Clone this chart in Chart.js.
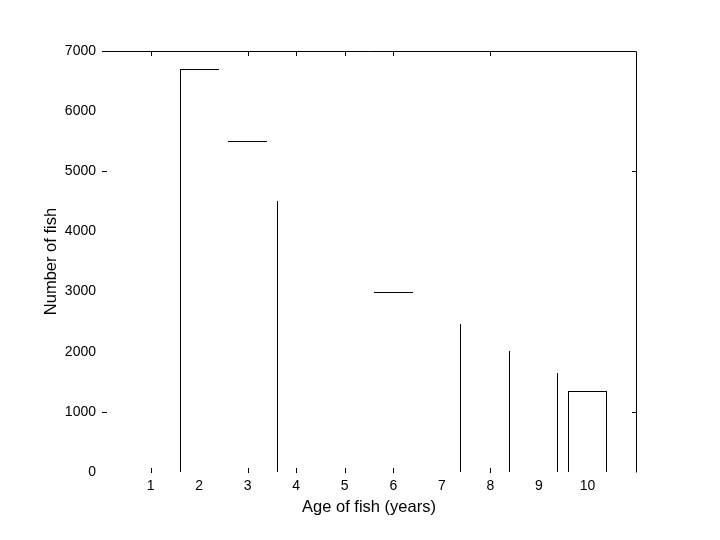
<!DOCTYPE html>
<html>
<head>
<meta charset="utf-8">
<script src="https://cdn.jsdelivr.net/npm/chart.js@4.4.1/dist/chart.umd.min.js"></script>
<style>
  html, body { margin: 0; padding: 0; background: #fff; }
  #wrap { width: 720px; height: 540px; }
</style>
</head>
<body>
<div id="wrap"><canvas id="c" width="720" height="540"></canvas></div>
<script>
// ---- data ----
const ages = [1, 2, 3, 4, 5, 6, 7, 8, 9, 10];
const fishCounts = [null, 6700, 5500, 4500, null, 3000, 2460, 2010, 1650, 1345];
const xTickLabels = ['1', '2', '3', '4', '5', '6', '7', '8', '9', '10'];
const yTickValues = [0, 1000, 2000, 3000, 4000, 5000, 6000, 7000];
// tick marks that are actually visible in the reference
const xTickMarks = [1, 3, 4, 5, 6, 8];
const yTickMarks = [1000, 5000];

// ---- style: which bar edges are visible ----
const barEdges = [
  {top: 0, right: 0, bottom: 0, left: 0},
  {top: 1, right: 0, bottom: 0, left: 1},
  {top: 1, right: 0, bottom: 0, left: 0},
  {top: 0, right: 0, bottom: 0, left: 1},
  {top: 0, right: 0, bottom: 0, left: 0},
  {top: 1, right: 0, bottom: 0, left: 0},
  {top: 0, right: 1, bottom: 0, left: 0},
  {top: 0, right: 1, bottom: 0, left: 0},
  {top: 0, right: 1, bottom: 0, left: 0},
  {top: 1, right: 1, bottom: 0, left: 1}
];

const FAMILY = '"Liberation Sans", Arial, Helvetica, sans-serif';
const TICK_FONT = { family: FAMILY, size: 14 };
const TITLE_FONT = { family: FAMILY, size: 16.5 };
Chart.defaults.color = '#000';
Chart.defaults.font.family = FAMILY;
Chart.defaults.font.size = 14;

// snap bar rectangles (computed by the scales) to whole pixels for crisp edges
const snapBars = {
  id: 'snapBars',
  beforeDatasetsDraw(chart) {
    chart.getSortedVisibleDatasetMetas().forEach(meta => {
      meta.data.forEach(el => {
        if (!el || !isFinite(el.x) || !isFinite(el.y)) return;
        const l = Math.round(el.x - el.width / 2);
        const r = Math.round(el.x + el.width / 2);
        el.x = (l + r) / 2;
        el.width = r - l;
        el.y = Math.round(el.y);
        el.base = Math.round(el.base);
      });
    });
  }
};

const frameTicks = {
  id: 'frameTicks',
  afterDatasetsDraw(chart) {
    const {ctx, scales: {x, y}} = chart;
    const L = 5;
    const px = v => Math.round(v) + 0.5;
    ctx.save();
    ctx.strokeStyle = '#000';
    ctx.lineWidth = 1;
    ctx.beginPath();
    const top = px(y.getPixelForValue(7000));
    const right = px(x.getPixelForValue(11));
    const left = px(x.getPixelForValue(0));
    const bottom = px(y.getPixelForValue(0));
    // top and right frame lines
    ctx.moveTo(left - 0.5, top);
    ctx.lineTo(right, top);
    ctx.lineTo(right, bottom);
    // x tick marks (inward, top and bottom)
    xTickMarks.forEach(v => {
      const xp = px(x.getPixelForValue(v));
      ctx.moveTo(xp, bottom + 0.5);
      ctx.lineTo(xp, bottom + 0.5 - L);
      ctx.moveTo(xp, top - 0.5);
      ctx.lineTo(xp, top - 0.5 + L);
    });
    // y tick marks (inward, left and right)
    yTickMarks.forEach(v => {
      const yp = px(y.getPixelForValue(v));
      ctx.moveTo(left - 0.5, yp);
      ctx.lineTo(left - 0.5 + L, yp);
      ctx.moveTo(right + 0.5, yp);
      ctx.lineTo(right + 0.5 - L, yp);
    });
    ctx.stroke();
    ctx.restore();
  }
};

new Chart(document.getElementById('c'), {
  type: 'bar',
  data: {
    datasets: [{
      data: ages.map((a, i) => ({x: a, y: fishCounts[i]})),
      backgroundColor: 'rgba(0,0,0,0)',
      borderColor: '#000',
      borderWidth: ctx => barEdges[ctx.dataIndex],
      borderSkipped: false,
      barPercentage: 0.8,
      categoryPercentage: 1.0
    }]
  },
  options: {
    responsive: false,
    animation: false,
    events: [],
    layout: { padding: { top: 51, right: 84, left: 0, bottom: 0 } },
    plugins: { legend: { display: false }, tooltip: { enabled: false } },
    scales: {
      x: {
        type: 'linear',
        offset: false,
        min: 0, max: 11,
        grid: { display: false, drawTicks: false, offset: false },
        border: { display: false },
        afterFit: s => { s.height = 68; },
        afterBuildTicks: s => { s.ticks = ages.map(v => ({value: v})); },
        ticks: {
          autoSkip: false, maxRotation: 0, padding: 6,
          font: TICK_FONT,
          callback: (v) => xTickLabels[ages.indexOf(v)] ?? ''
        },
        title: {
          display: true, text: 'Age of fish (years)', font: TITLE_FONT,
          padding: { top: 0, bottom: 23 }
        }
      },
      y: {
        min: 0, max: 7000,
        grid: { display: false, drawTicks: false },
        border: { display: false },
        afterFit: s => { s.width = 102; },
        afterBuildTicks: s => { s.ticks = yTickValues.map(v => ({value: v})); },
        ticks: { padding: 6, font: TICK_FONT, callback: v => String(v) },
        title: {
          display: true, text: 'Number of fish', font: TITLE_FONT,
          padding: { top: 42, bottom: 0 }
        }
      }
    }
  },
  plugins: [snapBars, frameTicks]
});
</script>
</body>
</html>
